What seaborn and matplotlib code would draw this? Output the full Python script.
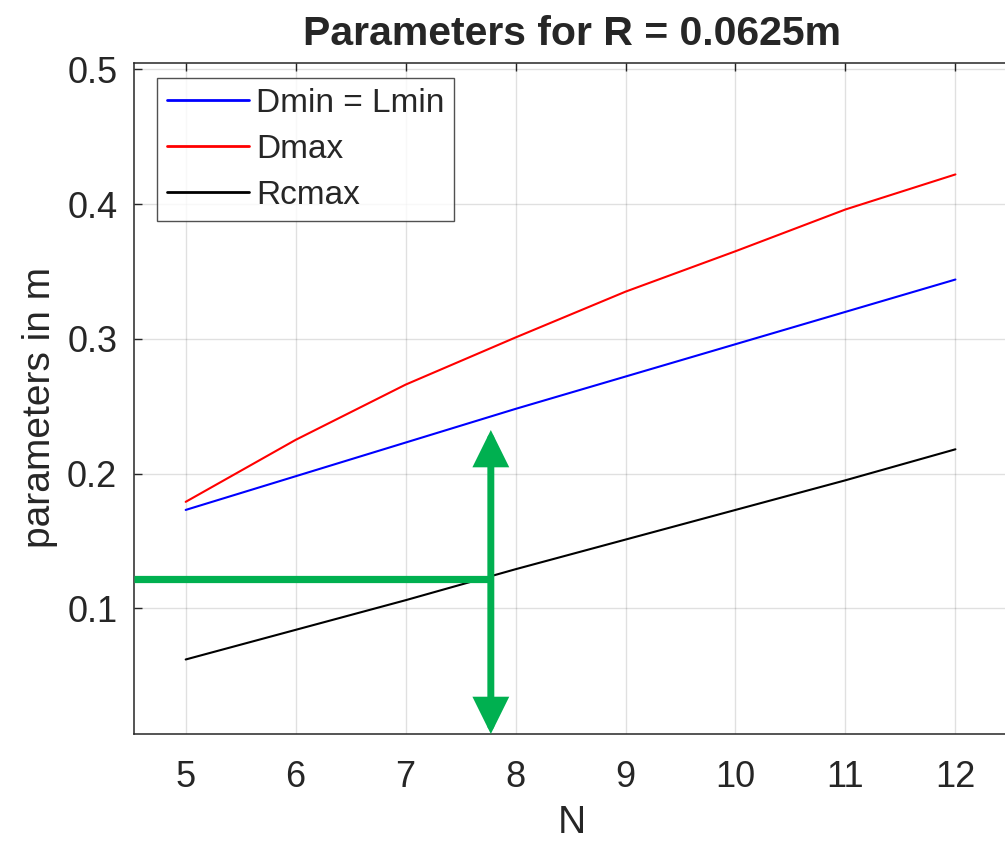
import numpy as np
import pandas as pd
import matplotlib
matplotlib.use("Agg")
import matplotlib.pyplot as plt
import seaborn as sns

# ---- data ----
N = [5, 6, 7, 8, 9, 10, 11, 12]
dmin_lmin = [0.173, 0.198, 0.223, 0.248, 0.272, 0.296, 0.320, 0.344]
dmax = [0.179, 0.225, 0.266, 0.301, 0.335, 0.365, 0.396, 0.422]
rcmax = [0.062, 0.084, 0.106, 0.129, 0.151, 0.173, 0.195, 0.218]
series_names = ["Dmin = Lmin", "Dmax", "Rcmax"]
series_colors = ["#0000FF", "#FF0000", "#000000"]
x_ticks = [5, 6, 7, 8, 9, 10, 11, 12]
y_ticks = [0.1, 0.2, 0.3, 0.4, 0.5]

# green annotation (reading guide)
guide_N = 7.775
guide_y = 0.1215
guide_top = 0.2323

df = pd.DataFrame({
    "N": N * 3,
    "value": dmin_lmin + dmax + rcmax,
    "series": [series_names[0]] * len(N) + [series_names[1]] * len(N) + [series_names[2]] * len(N),
})

sns.set_style("white")
plt.rcParams["font.family"] = ["Liberation Sans", "DejaVu Sans"]

fig = plt.figure(figsize=(10.05, 8.42), dpi=100)
xlim = (4.53, 12.5)
ylim = (0.0067, 0.5047)
ax = fig.add_axes([134 / 1005, 108 / 842, 876.4 / 1005, 671 / 842])

sns.lineplot(data=df, x="N", y="value", hue="series", hue_order=series_names,
             palette=dict(zip(series_names, series_colors)), linewidth=1.5, ax=ax)

ax.set_xlim(*xlim)
ax.set_ylim(*ylim)
ax.set_xticks(x_ticks)
ax.set_yticks(y_ticks)
ax.set_yticklabels([f"{v:g}" for v in y_ticks])

dark = "#262626"
ax.grid(True, color="#000000", alpha=0.12, linewidth=1.0)
ax.set_axisbelow(True)
for s in ["left", "bottom", "top"]:
    ax.spines[s].set_color(dark)
    ax.spines[s].set_linewidth(1.1)
ax.spines["right"].set_visible(False)
ax.tick_params(axis="both", direction="in", length=5.5, width=1.0, color=dark,
               labelcolor=dark, labelsize=26)
ax.tick_params(axis="x", top=True, pad=19)
ax.tick_params(axis="y", left=True, pad=12)

ax.set_xlabel("N", fontsize=28, color=dark, labelpad=7)
ax.set_ylabel("parameters in m", fontsize=28, color=dark)
ax.yaxis.set_label_coords(-0.087, 0.487)
ax.set_title("Parameters for R = 0.0625m", fontsize=29.5, fontweight="bold", pad=13)

leg = ax.legend(loc="upper left", bbox_to_anchor=(0.026, 0.978), fontsize=24,
                frameon=True, fancybox=False, edgecolor=dark, handlelength=2.46,
                handletextpad=0.21, labelspacing=0.45, borderpad=0.3, borderaxespad=0)
leg.get_frame().set_linewidth(1.0)
for line in leg.get_lines():
    line.set_linewidth(2.0)

green = "#00B050"
ax.plot([xlim[0], guide_N], [guide_y, guide_y], color=green, linewidth=5.2,
        solid_capstyle="butt", zorder=5)
ax.annotate("", xy=(guide_N, guide_top), xytext=(guide_N, ylim[0]),
            arrowprops=dict(arrowstyle="<|-|>,head_length=0.85,head_width=0.42",
                            color=green, lw=5.0, shrinkA=0, shrinkB=0,
                            mutation_scale=22, joinstyle="miter"),
            zorder=6)

fig.savefig("out.png", dpi=100)
